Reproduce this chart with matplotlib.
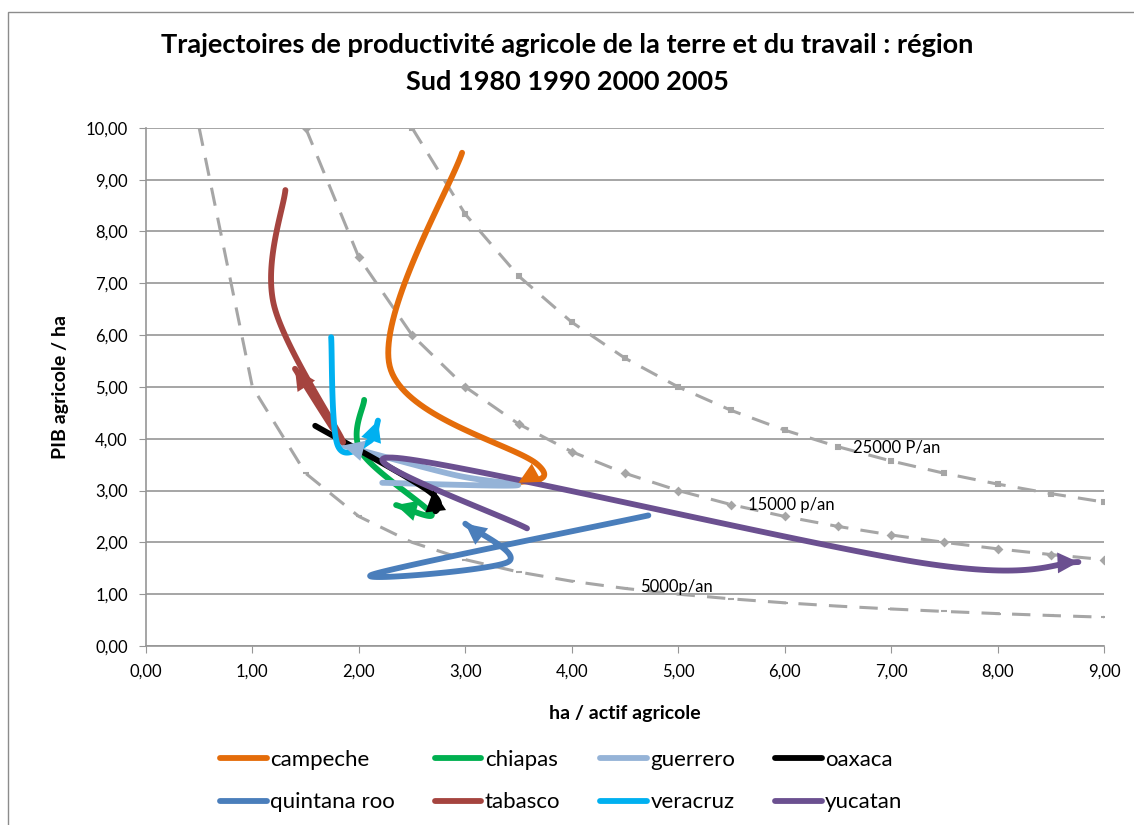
import matplotlib
matplotlib.use("Agg")
import matplotlib.pyplot as plt
from matplotlib.patches import Rectangle
import numpy as np

plt.rcParams['font.family'] = ['Lato', 'DejaVu Sans']

# trajectories 1980, 1990, 2000, 2005 : (ha / actif, PIB / ha)
states = ["campeche", "chiapas", "guerrero", "oaxaca",
          "quintana roo", "tabasco", "veracruz", "yucatan"]
colors = ["#E46C0A", "#00B050", "#95B3D7", "#000000",
          "#4A7EBB", "#A5443F", "#00B0F0", "#6B5090"]
x_vals = [
    [2.97, 2.29, 3.68, 3.50],
    [2.05, 2.02, 2.68, 2.35],
    [2.22, 3.48, 2.90, 1.85],
    [1.59, 2.65, 2.72, 2.70],
    [4.72, 2.13, 3.40, 3.00],
    [1.31, 1.20, 1.85, 1.40],
    [1.74, 1.80, 2.10, 2.18],
    [3.58, 2.36, 7.30, 8.76],
]
y_vals = [
    [9.52, 5.40, 3.50, 3.15],
    [4.75, 3.75, 2.56, 2.72],
    [3.15, 3.10, 3.30, 3.87],
    [4.25, 3.00, 2.60, 3.00],
    [2.52, 1.38, 1.62, 2.36],
    [8.80, 6.60, 3.95, 5.35],
    [5.96, 3.88, 3.95, 4.35],
    [2.27, 3.63, 1.60, 1.62],
]

# iso-productivity curves (PIB / actif, thousands)
iso_levels = [5, 15, 25]
iso_labels = ["5000p/an", "15000 p/an", "25000 P/an"]
iso_markers = ["_", "D", "s"]


def excel_smooth(xs, ys, n=40):
    P = np.column_stack([xs, ys]).astype(float)
    ext = np.vstack([P[0], P, P[-1]])
    t = np.linspace(0, 1, n)[:, None]
    out = []
    for i in range(len(P) - 1):
        p0, p1, p2, p3 = ext[i], ext[i + 1], ext[i + 2], ext[i + 3]
        c1 = p1 + (p2 - p0) / 6
        c2 = p2 - (p3 - p1) / 6
        seg = (1 - t)**3 * p1 + 3 * (1 - t)**2 * t * c1 + 3 * (1 - t) * t**2 * c2 + t**3 * p2
        out.append(seg if i == 0 else seg[1:])
    return np.vstack(out)


fig = plt.figure(figsize=(11.34, 8.25), dpi=100)
ax = fig.add_axes([0.1287, 0.217, 0.8448, 0.628])

fig.patches.append(Rectangle((0.007, -0.02), 1.02, 1.005, transform=fig.transFigure,
                             fill=False, edgecolor="#8C8C8C", lw=1.0))

gray = "#A6A6A6"
for k, lab, mk in zip(iso_levels, iso_labels, iso_markers):
    xs = np.arange(k / 10, 9.001, 0.5)
    ax.plot(xs, k / xs, ls=(0, (6, 4)), color=gray, lw=2.2, marker=mk,
            ms=3.5 if mk != "_" else 5, mew=1.5, zorder=2)

ax.text(6.64, 3.84, "25000 P/an", fontsize=12, va="center", zorder=3)
ax.text(5.66, 2.72, "15000 p/an", fontsize=12, va="center", zorder=3)
ax.text(4.64, 1.14, "5000p/an", fontsize=12, va="center", zorder=3)

lines = []
for name, c, xs, ys in zip(states, colors, x_vals, y_vals):
    curve = excel_smooth(xs, ys)
    ln, = ax.plot(curve[:, 0], curve[:, 1], color=c, lw=4.2, solid_capstyle="round",
                  label=name, zorder=4)
    lines.append(ln)
    ax.annotate("", xy=tuple(curve[-1]), xytext=tuple(curve[-3]),
                arrowprops=dict(arrowstyle="-|>,head_length=1.0,head_width=0.5",
                                mutation_scale=15, color=c, lw=0,
                                shrinkA=0, shrinkB=0), zorder=5)

ax.set_xlim(0, 9)
ax.set_ylim(0, 10)
ax.set_xticks(np.arange(0, 10, 1))
ax.set_yticks(np.arange(0, 11, 1))
ax.set_xticklabels([f"{v:.2f}".replace(".", ",") for v in range(10)], fontsize=12)
ax.set_yticklabels([f"{v:.2f}".replace(".", ",") for v in range(11)], fontsize=12)
ax.yaxis.grid(True, color="#969696", lw=1.2)
ax.set_axisbelow(True)
for s in ["top", "right"]:
    ax.spines[s].set_visible(False)
for s in ["left", "bottom"]:
    ax.spines[s].set_color("#969696")
    ax.spines[s].set_linewidth(1.2)
ax.tick_params(colors="#969696", length=5, labelcolor="black", pad=8)

ax.set_xlabel("ha / actif agricole", fontsize=14, fontweight="bold", labelpad=18)
ax.set_ylabel("PIB agricole / ha", fontsize=14, fontweight="bold", labelpad=12)
fig.suptitle("Trajectoires de productivité agricole de la terre et du travail : région\nSud 1980 1990 2000 2005",
             fontsize=19.5, fontweight="bold", y=0.96, linespacing=1.65)

# legend reads row by row: order handles column by column
order = [0, 4, 1, 5, 2, 6, 3, 7]
fig.legend([lines[i] for i in order], [states[i] for i in order],
           loc="upper center", bbox_to_anchor=(0.495, 0.115), ncol=4,
           fontsize=16, frameon=False, handlelength=2.1, handletextpad=0.15,
           columnspacing=1.8, labelspacing=1.0)

fig.savefig("out.png", dpi=100)
